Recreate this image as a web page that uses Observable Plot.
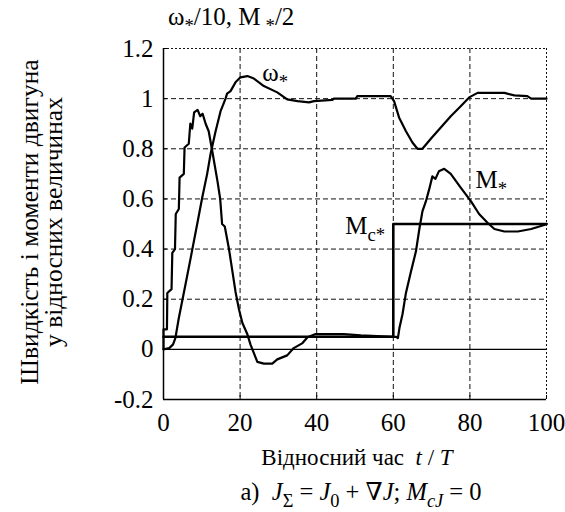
<!DOCTYPE html>
<html>
<head>
<meta charset="utf-8">
<script src="https://cdn.jsdelivr.net/npm/d3@7"></script>
<script src="https://cdn.jsdelivr.net/npm/@observablehq/plot@0.6"></script>
<style>
  html, body { margin: 0; padding: 0; background: #fff; }
</style>
</head>
<body>
<div id="chart"></div>
<script>
// Relative time t/T
const xTicks = [0, 20, 40, 60, 80, 100];
const xTickLabels = ["0", "20", "40", "60", "80", "100"];
const yTicks = [-0.2, 0, 0.2, 0.4, 0.6, 0.8, 1.0, 1.2];
const yTickLabels = ["-0.2", "0", "0.2", "0.4", "0.6", "0.8", "1", "1.2"];
const gridX = [20, 40, 60, 80];
const gridY = [0.2, 0.4, 0.6, 0.8, 1.0];

// Motor torque M* (relative)
const mT = [0, 0, 0.9, 1.0, 2.1, 2.3, 3.0, 3.2, 4.0, 4.2, 5.3, 5.5, 6.6, 7.0, 7.5, 8.0, 8.9, 9.6, 10.2, 11.0, 11.8, 12.8, 14.1, 14.8, 15.3, 16.0, 17.1, 18.0, 18.8, 19.7, 20.6, 21.9, 22.7, 23.6, 24.5, 26.2, 28.4, 29.7, 32.3, 34.0, 36.3, 37.6, 39.7, 47.1, 51.5, 60.0, 60.8, 61.2, 61.6, 62.4, 63.3, 64.6, 65.9, 66.8, 67.6, 68.5, 69.4, 70.2, 71.0, 71.9, 73.3, 75.0, 77.6, 80.3, 82.4, 84.6, 86.4, 89.0, 92.5, 96.0, 99.4, 100];
const mV = [0, 0.08, 0.08, 0.225, 0.24, 0.385, 0.40, 0.54, 0.56, 0.685, 0.70, 0.805, 0.82, 0.90, 0.88, 0.945, 0.955, 0.93, 0.94, 0.90, 0.87, 0.785, 0.67, 0.60, 0.50, 0.49, 0.40, 0.31, 0.23, 0.16, 0.105, 0.06, 0.02, -0.015, -0.05, -0.057, -0.057, -0.04, -0.024, 0.005, 0.025, 0.048, 0.061, 0.061, 0.056, 0.05, 0.05, 0.045, 0.085, 0.14, 0.225, 0.31, 0.39, 0.48, 0.55, 0.59, 0.64, 0.69, 0.68, 0.71, 0.72, 0.70, 0.645, 0.59, 0.54, 0.505, 0.48, 0.47, 0.47, 0.48, 0.496, 0.50];

// Motor speed ω* (relative)
const wT = [0, 1.5, 2.5, 3.1, 4.0, 5.75, 7.1, 8.8, 10.1, 11.4, 12.3, 13.6, 14.9, 15.3, 16.2, 16.6, 17.5, 18.8, 20.1, 21.9, 23.6, 26.2, 29.7, 32.3, 35.0, 38.0, 39.3, 44.1, 44.5, 50.2, 50.6, 59.3, 60.2, 61.5, 63.3, 65.0, 66.3, 67.6, 69.8, 72.4, 75.0, 77.6, 79.8, 82.0, 89.0, 91.6, 95.0, 96.0, 100];
const wV = [0, 0.005, 0.02, 0.045, 0.125, 0.26, 0.365, 0.50, 0.605, 0.70, 0.78, 0.87, 0.95, 0.965, 1.0, 1.02, 1.03, 1.065, 1.085, 1.09, 1.08, 1.05, 1.025, 0.997, 0.99, 0.985, 0.99, 0.995, 1.0, 1.0, 1.01, 1.01, 0.99, 0.925, 0.87, 0.825, 0.80, 0.80, 0.84, 0.885, 0.93, 0.97, 1.005, 1.023, 1.023, 1.013, 1.01, 1.0, 1.0];

// Load torque Mc* (step)
const mcT = [0, 60, 100];
const mcV = [0.05, 0.5, 0.5];

const SERIF = "'Liberation Serif', 'Times New Roman', Times, 'DejaVu Serif', serif";

const plot = Plot.plot({
  width: 565,
  height: 512,
  marginLeft: 163,
  marginRight: 19,
  marginTop: 48,
  marginBottom: 113,
  style: { fontFamily: SERIF, fontSize: "25px", background: "#fff", color: "#000" },
  x: { domain: [0, 100] },
  y: { domain: [-0.2, 1.2] },
  marks: [
    Plot.ruleX(gridX, { stroke: "#111", strokeWidth: 1, strokeDasharray: "5,3" }),
    Plot.ruleY(gridY, { stroke: "#111", strokeWidth: 1, strokeDasharray: "5,3" }),
    Plot.ruleY([1.2], { stroke: "#111", strokeWidth: 1, strokeDasharray: "2,2" }),
    Plot.ruleX([100], { stroke: "#111", strokeWidth: 1, strokeDasharray: "2,2" }),
    Plot.ruleY([0], { stroke: "#000", strokeWidth: 1.2 }),
    Plot.ruleX([0], { stroke: "#000", strokeWidth: 1.5 }),
    Plot.ruleY([-0.2], { stroke: "#000", strokeWidth: 1.5 }),
    Plot.axisX({ ticks: xTicks, tickFormat: (d, i) => xTickLabels[i], tickSize: -4, tickPadding: 18, label: null, fontSize: 25 }),
    Plot.axisY({ ticks: yTicks, tickFormat: (d, i) => yTickLabels[i], tickSize: -4, tickPadding: 14, label: null, fontSize: 25 }),
    Plot.line(mcT, { x: mcT, y: mcV, curve: "step-after", stroke: "#000", strokeWidth: 2.6 }),
    Plot.line(mT, { x: mT, y: mV, stroke: "#000", strokeWidth: 2.2, strokeLinejoin: "round" }),
    Plot.line(wT, { x: wT, y: wV, stroke: "#000", strokeWidth: 2.2, strokeLinejoin: "round" })
  ]
});

document.getElementById("chart").appendChild(plot);

const svg = d3.select(plot);
const sx = plot.scale("x"), sy = plot.scale("y");
const X = v => sx.apply(v), Y = v => sy.apply(v);

function addText(x, y, parts, size, opts = {}) {
  const t = svg.append("text")
    .attr("x", x).attr("y", y)
    .attr("font-size", size)
    .attr("fill", "#000")
    .attr("text-anchor", opts.anchor || "start");
  if (opts.transform) t.attr("transform", opts.transform);
  let shift = 0;
  for (const p of parts) {
    const target = p.sub ? Math.round(size * 0.28) : 0;
    const ts = t.append("tspan").text(p.t);
    ts.attr("dy", target - shift);
    shift = target;
    if (p.sub) ts.attr("font-size", size * 0.75);
    if (p.italic) ts.attr("font-style", "italic");
  }
  return t;
}

// Curve labels, positioned through the chart scales
addText(X(25.9), Y(1.07), [{ t: "ω" }, { t: "*", sub: true }], 25);
addText(X(81.6), Y(0.643), [{ t: "M" }, { t: "*", sub: true }], 25);
addText(X(47.6), Y(0.459), [{ t: "M" }, { t: "c*", sub: true }], 25);

// Top quantity label
addText(168, 25, [{ t: "ω" }, { t: "*", sub: true }, { t: "/10, M\u2009" }, { t: "*", sub: true }, { t: "/2" }], 25);

// Y-axis title (two lines, rotated)
addText(0, 0, [{ t: "Швидкість і моменти двигуна" }], 25.5, { anchor: "middle", transform: "translate(38,222) rotate(-90)" });
addText(0, 0, [{ t: "у відносних величинах" }], 25.5, { anchor: "middle", transform: "translate(62,222) rotate(-90)" });

// X-axis title
addText(357, 465, [{ t: "Відносний час  " }, { t: "t", italic: true }, { t: " / " }, { t: "T", italic: true }], 23, { anchor: "middle" });

// Caption
addText(361, 500, [
  { t: "а)  " }, { t: "J", italic: true }, { t: "Σ", sub: true }, { t: " = " },
  { t: "J", italic: true }, { t: "0", sub: true }, { t: " + ∇" }, { t: "J", italic: true },
  { t: "; " }, { t: "M", italic: true }, { t: "cJ", sub: true, italic: true }, { t: " = 0" }
], 24.5, { anchor: "middle" });

// Serif typeface on every text element
svg.selectAll("text, tspan").style("font-family", SERIF);
</script>
</body>
</html>
